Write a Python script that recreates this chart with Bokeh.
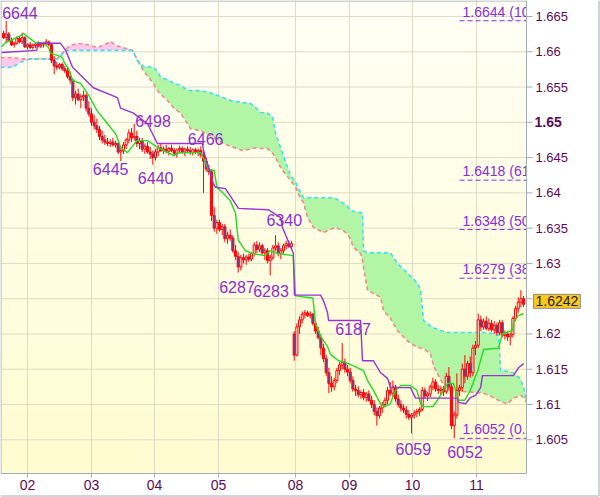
import numpy as np
from bokeh.plotting import figure
from bokeh.models import Range1d, BoxAnnotation, ColumnDataSource
from bokeh.core.properties import value
from bokeh.embed import file_html
from bokeh.resources import INLINE

# ---------------- data (prices written as the last four digits, 6623 = 1.6623) ----------------
day_labels = ["02", "03", "04", "05", "08", "09", "10", "11"]
day_pos = [9.0, 33.0, 56.6, 80.6, 109.5, 129.7, 153.4, 177.4]

y_ticks = [1.605, 1.61, 1.615, 1.62, 1.625, 1.63, 1.635, 1.64, 1.645, 1.65, 1.655, 1.66, 1.665]
y_tick_labels = ["1.605", "1.61", "1.615", "1.62", "1.625", "1.63", "1.635", "1.64", "1.645",
                 "1.65", "1.655", "1.66", "1.665"]
bold_tick = 1.65

bar_open = [6626, 6620, 6625, 6616, 6610, 6612, 6619, 6614, 6620, 6607, 6610, 6606, 6609, 6611, 6608, 6610, 6612, 6614, 6610, 6588,
            6580, 6578, 6582, 6576, 6573, 6565, 6560, 6535, 6540, 6532, 6536, 6538, 6520, 6512, 6500, 6495, 6490, 6480, 6475, 6472,
            6470, 6472, 6468, 6470, 6458, 6460, 6468, 6475, 6485, 6478, 6480, 6470, 6474, 6462, 6466, 6458, 6455, 6450, 6458, 6464,
            6460, 6462, 6459, 6463, 6460, 6456, 6461, 6463, 6458, 6462, 6460, 6457, 6461, 6458, 6460, 6454, 6445, 6434, 6430, 6368,
            6350, 6358, 6348, 6352, 6335, 6340, 6336, 6318, 6310, 6295, 6308, 6305, 6309, 6306, 6314, 6326, 6320, 6325, 6315, 6318,
            6304, 6308, 6322, 6325, 6314, 6318, 6325, 6328, 6324, 6200, 6170, 6210, 6220, 6228, 6230, 6226, 6228, 6215, 6204, 6195,
            6180, 6165, 6145, 6130, 6125, 6134, 6148, 6156, 6160, 6150, 6146, 6134, 6122, 6120, 6114, 6117, 6110, 6115, 6106, 6100,
            6090, 6084, 6095, 6100, 6106, 6120, 6116, 6125, 6108, 6100, 6095, 6092, 6086, 6082, 6085, 6088, 6090, 6093, 6120, 6112,
            6115, 6125, 6132, 6122, 6120, 6122, 6118, 6140, 6125, 6070, 6085, 6120, 6124, 6150, 6140, 6158, 6145, 6180, 6184, 6220,
            6210, 6218, 6208, 6215, 6206, 6212, 6202, 6216, 6198, 6200, 6196, 6199, 6222, 6236, 6245, 6250]
bar_high = [6630, 6644, 6628, 6620, 6614, 6622, 6622, 6627, 6622, 6612, 6614, 6612, 6614, 6615, 6613, 6614, 6618, 6616, 6612, 6594,
            6586, 6584, 6585, 6580, 6577, 6572, 6562, 6545, 6548, 6540, 6545, 6542, 6530, 6520, 6510, 6505, 6495, 6488, 6482, 6478,
            6476, 6478, 6474, 6472, 6465, 6472, 6478, 6490, 6492, 6498, 6488, 6478, 6478, 6470, 6472, 6465, 6460, 6462, 6468, 6470,
            6466, 6468, 6465, 6468, 6464, 6463, 6467, 6466, 6464, 6466, 6465, 6463, 6464, 6463, 6466, 6458, 6450, 6440, 6434, 6380,
            6362, 6362, 6356, 6356, 6345, 6348, 6340, 6326, 6316, 6312, 6314, 6312, 6314, 6316, 6330, 6332, 6330, 6328, 6322, 6322,
            6312, 6326, 6340, 6330, 6322, 6328, 6332, 6333, 6332, 6204, 6215, 6225, 6232, 6234, 6233, 6232, 6230, 6220, 6210, 6200,
            6186, 6170, 6152, 6140, 6138, 6152, 6160, 6187, 6165, 6156, 6152, 6140, 6128, 6126, 6120, 6122, 6118, 6120, 6112, 6106,
            6096, 6098, 6104, 6110, 6125, 6132, 6134, 6128, 6114, 6106, 6100, 6098, 6092, 6088, 6092, 6094, 6096, 6125, 6124, 6118,
            6128, 6138, 6136, 6128, 6126, 6126, 6145, 6153, 6130, 6090, 6144, 6128, 6158, 6170, 6162, 6168, 6185, 6190, 6229, 6226,
            6222, 6225, 6222, 6220, 6218, 6216, 6220, 6220, 6205, 6204, 6202, 6225, 6240, 6252, 6262, 6254]
bar_low = [6618, 6612, 6614, 6608, 6606, 6610, 6612, 6611, 6605, 6603, 6604, 6603, 6605, 6606, 6605, 6606, 6609, 6608, 6584, 6568,
           6574, 6575, 6573, 6570, 6562, 6555, 6530, 6525, 6530, 6520, 6530, 6515, 6508, 6495, 6490, 6485, 6475, 6470, 6468, 6466,
           6465, 6466, 6464, 6455, 6445, 6455, 6462, 6470, 6472, 6474, 6465, 6462, 6458, 6455, 6456, 6448, 6440, 6446, 6452, 6458,
           6455, 6456, 6453, 6458, 6452, 6450, 6456, 6455, 6452, 6456, 6454, 6453, 6455, 6452, 6450, 6400, 6430, 6425, 6360, 6345,
           6342, 6345, 6340, 6330, 6328, 6332, 6315, 6305, 6287, 6290, 6300, 6298, 6302, 6303, 6310, 6315, 6316, 6312, 6305, 6300,
           6283, 6305, 6318, 6310, 6306, 6314, 6320, 6322, 6320, 6162, 6168, 6200, 6215, 6222, 6224, 6222, 6212, 6200, 6192, 6170,
           6160, 6140, 6116, 6118, 6120, 6130, 6142, 6150, 6145, 6140, 6130, 6118, 6112, 6110, 6108, 6106, 6104, 6104, 6095, 6085,
           6070, 6080, 6088, 6096, 6100, 6112, 6110, 6104, 6096, 6090, 6088, 6080, 6078, 6059, 6080, 6082, 6084, 6090, 6108, 6105,
           6110, 6120, 6118, 6115, 6114, 6112, 6115, 6120, 6065, 6052, 6080, 6112, 6118, 6130, 6135, 6138, 6140, 6170, 6180, 6204,
           6206, 6205, 6204, 6203, 6200, 6198, 6198, 6195, 6192, 6190, 6184, 6195, 6218, 6230, 6238, 6238]
bar_close = [6620, 6625, 6616, 6610, 6612, 6619, 6614, 6620, 6607, 6610, 6606, 6609, 6611, 6608, 6610, 6612, 6614, 6610, 6588, 6580,
             6578, 6582, 6576, 6573, 6565, 6560, 6535, 6540, 6532, 6536, 6538, 6520, 6512, 6500, 6495, 6490, 6480, 6475, 6472, 6470,
             6472, 6468, 6470, 6458, 6460, 6468, 6475, 6485, 6478, 6480, 6470, 6474, 6462, 6466, 6458, 6455, 6450, 6458, 6464, 6460,
             6462, 6459, 6463, 6460, 6456, 6461, 6463, 6458, 6462, 6460, 6457, 6461, 6458, 6460, 6454, 6445, 6434, 6430, 6368, 6350,
             6358, 6348, 6352, 6335, 6340, 6336, 6318, 6310, 6295, 6308, 6305, 6309, 6306, 6314, 6326, 6320, 6325, 6315, 6318, 6304,
             6308, 6322, 6325, 6314, 6318, 6325, 6328, 6324, 6328, 6170, 6210, 6220, 6228, 6230, 6226, 6228, 6215, 6204, 6195, 6180,
             6165, 6145, 6130, 6125, 6134, 6148, 6156, 6160, 6150, 6146, 6134, 6122, 6120, 6114, 6117, 6110, 6115, 6106, 6100, 6090,
             6084, 6095, 6100, 6106, 6120, 6116, 6125, 6108, 6100, 6095, 6092, 6086, 6082, 6085, 6088, 6090, 6093, 6120, 6112, 6115,
             6125, 6132, 6122, 6120, 6122, 6118, 6140, 6125, 6070, 6085, 6120, 6124, 6150, 6140, 6158, 6145, 6180, 6184, 6220, 6210,
             6218, 6208, 6215, 6206, 6212, 6202, 6216, 6198, 6200, 6196, 6199, 6222, 6236, 6245, 6250, 6242]

# Tenkan-sen (green)
tenkan_bar = [-0.75, 0.8, 2.6, 6.4, 7.5, 9.4, 12.0, 15.0, 16.9, 17.6, 20.2, 22.0, 23.0, 24.4, 26.0, 29.0, 32.0, 35.0,
              39.0, 42.0, 44.0, 46.5, 50.0, 54.0, 58.0, 61.5, 64.0, 66.0, 74.0, 77.0, 79.0, 80.0, 82.5, 85.0, 87.0, 88.0,
              90.7, 93.4, 98.0, 100.0, 102.7, 108.6, 109.5, 116.0, 117.0, 119.0, 121.5, 122.6, 125.6, 128.0, 131.0, 135.0,
              136.5, 138.7, 141.4, 143.0, 145.0, 147.0, 149.0, 152.6, 155.0, 156.4, 157.5, 161.0, 162.7, 166.5, 168.7,
              170.6, 173.0, 175.0, 178.0, 180.0, 185.6, 187.0, 190.9, 191.2, 193.0, 195.0]
tenkan_val = [6607, 6613, 6616, 6623, 6626, 6620, 6613, 6612, 6606, 6598, 6595, 6592, 6583, 6576, 6559, 6555, 6538, 6517,
              6498, 6484, 6464, 6457, 6474, 6474, 6464, 6457, 6453, 6457, 6457, 6432, 6432, 6408, 6399, 6389, 6371, 6333,
              6318, 6314, 6311, 6318, 6314, 6311, 6254, 6251, 6215, 6196, 6182, 6171, 6162, 6160, 6155, 6148,
              6134, 6120, 6101, 6097, 6101, 6120, 6127, 6127, 6120, 6101, 6097, 6097, 6106, 6130, 6130,
              6106, 6106, 6120, 6150, 6178, 6180, 6200, 6205, 6216, 6226, 6229]

# Kijun-sen (purple)
kijun_bar = [-0.75, 12.5, 12.8, 21.4, 23.3, 25.9, 33.7, 42.7, 43.9, 48.7, 54.0, 57.7, 74.6, 75.0, 78.7, 79.5, 83.2,
             88.1, 99.4, 103.9, 104.6, 108.7, 109.1, 118.9, 120.0, 121.5, 121.9, 133.9, 134.6, 138.7, 141.4, 144.0,
             145.1, 152.6, 154.5, 170.2, 170.6, 173.2, 175.1, 177.0, 178.9, 179.6, 191.2, 193.1, 195.0]
kijun_val = [6599, 6602, 6612, 6612, 6602, 6578, 6549, 6535, 6520, 6513, 6498, 6470, 6470, 6460, 6413, 6408, 6406,
             6378, 6376, 6365, 6351, 6314, 6255, 6255, 6247, 6230, 6219, 6219, 6162, 6162, 6145, 6137,
             6124, 6124, 6109, 6109, 6103, 6101, 6110, 6113, 6124, 6141, 6141, 6152, 6158]

# Cloud: Senkou span A (cyan) and B (salmon)
cloud_bar = [-1.1, 3.4, 6.4, 10.1, 20.2, 22.5, 24.0, 25.1, 27.7, 31.5, 35.2, 39.0, 40.1, 42.0, 45.7, 48.4, 50.2, 52.5,
             56.2, 57.7, 58.9, 61.5, 63.7, 66.4, 69.0, 70.1, 73.9, 77.6, 82.5, 85.1, 89.6, 92.6, 94.5, 96.4, 99.0, 100.9,
             102.0, 103.9, 105.0, 107.6, 109.5, 110.6, 112.5, 114.0, 116.2, 120.0, 123.7, 124.5, 127.5, 129.0, 130.1,
             131.2, 133.9, 134.6, 135.0, 136.5, 141.4, 142.5, 145.1, 147.7, 151.5, 152.6, 155.2, 156.4, 157.5, 160.1,
             161.2, 163.9, 166.5, 177.0, 180.0, 182.6, 185.6, 186.4, 189.0, 191.2, 193.9, 195.0, 196.1]
span_a = [6578, 6578, 6585, 6590, 6590, 6598, 6602, 6602, 6602, 6602, 6602, 6602, 6602, 6602, 6602, 6602, 6588, 6579,
          6578, 6572, 6564, 6560, 6556, 6552, 6546, 6545, 6545, 6542, 6535, 6531, 6528, 6527, 6521, 6514, 6513, 6508,
          6484, 6464, 6452, 6425, 6415, 6406, 6393, 6393, 6393, 6393, 6393, 6392, 6385, 6381, 6375,
          6374, 6372, 6372, 6318, 6315, 6315, 6315, 6315, 6300, 6286, 6282, 6272, 6262, 6219, 6211,
          6209, 6205, 6202, 6202, 6202, 6201, 6198, 6148, 6147, 6145, 6136, 6124, 6106]
span_b = [6592, 6592, 6590, 6590, 6590, 6600, 6606, 6609, 6612, 6610, 6606, 6612, 6615, 6609, 6605, 6602, 6588, 6573,
          6555, 6545, 6540, 6531, 6521, 6513, 6498, 6491, 6488, 6481, 6470, 6466, 6460, 6462, 6464, 6463, 6463, 6456,
          6450, 6436, 6430, 6418, 6408, 6398, 6386, 6365, 6351, 6344, 6350, 6351, 6346, 6342, 6334,
          6323, 6314, 6305, 6294, 6262, 6252, 6233, 6222, 6205, 6190, 6187, 6181, 6180, 6179, 6172,
          6155, 6135, 6120, 6117, 6116, 6112, 6106, 6104, 6101, 6109, 6113, 6110, 6103]

# High / low labels
hilo_text = ["6644", "6498", "6466", "6445", "6440", "6340", "6287", "6283", "6187", "6059", "6052"]
hilo_bar = [1, 49, 74, 44, 56, 102, 88, 100, 127, 153, 169]
hilo_val = [6644, 6498, 6466, 6445, 6440, 6340, 6287, 6283, 6187, 6059, 6052]

# Fibonacci levels
fib_val = [6644, 6418, 6348, 6279, 6052]
fib_text = ["1.6644 (100.0)", "1.6418 (61.8)", "1.6348 (50.0)", "1.6279 (38.2)", "1.6052 (0.0)"]
fib_start_bar = 171

last_price_text = "1.6242"
last_price = 6242


def price(pips):
    return 1.0 + np.asarray(pips, dtype=float) / 10000.0


# ---------------- geometry ----------------
W, H = 600, 497
chart_left, chart_right = -0.75, 196.1      # bar-index span of the chart area
chart_bottom, chart_top = 1.60022, 1.66727  # price span of the chart area
area_px_w, area_px_h = 525.0, 473.0         # chart area size in pixels (right axis / bottom axis outside)
ppb = area_px_w / (chart_right - chart_left)
ppu = area_px_h / (chart_top - chart_bottom)
x_min = chart_left - 1.0 / ppb
x_max = x_min + W / ppb
y_max = chart_top
y_min = chart_top - H / ppu

p = figure(width=W, height=H, output_backend="svg", toolbar_location=None,
           x_range=Range1d(x_min, x_max), y_range=Range1d(y_min, y_max),
           x_axis_location=None, y_axis_location=None, min_border=0)
p.background_fill_color = "#ffffff"
p.border_fill_color = "#ffffff"
p.outline_line_color = None
p.grid.visible = False

grey = "#a3abb3"
label_col = "#5a0a5a"

# background gradient of the chart area
nb = 30
edges = np.linspace(chart_bottom, chart_top, nb + 1)
c_top = np.array([255, 255, 246])
c_bot = np.array([255, 252, 208])
for k in range(nb):
    t = (k + 0.5) / nb
    col = c_bot + (c_top - c_bot) * t
    hexc = "#%02x%02x%02x" % tuple(int(round(v)) for v in col)
    p.add_layout(BoxAnnotation(left=chart_left, right=chart_right, bottom=edges[k],
                               top=min(edges[k + 1] + (edges[1] - edges[0]) * 0.1, chart_top),
                               fill_color=hexc, fill_alpha=1.0, line_alpha=0, level="image"))

# grid
p.segment(x0=day_pos, y0=[chart_bottom] * len(day_pos), x1=day_pos, y1=[chart_top] * len(day_pos),
          line_color="#dcdcc2", line_width=1, level="underlay")
p.segment(x0=[chart_left] * len(y_ticks), y0=y_ticks, x1=[chart_right] * len(y_ticks), y1=y_ticks,
          line_color="#dcdcc2", line_width=1, level="underlay")

# cloud
cx = np.asarray(cloud_bar)
a = price(span_a)
b = price(span_b)
top = np.maximum(a, b)
p.varea(x=cx, y1=b, y2=top, fill_color="#b2f5a4", fill_alpha=1.0)
p.varea(x=cx, y1=a, y2=top, fill_color="#ffc8ec", fill_alpha=1.0)
p.line(cx, b, line_color="#f08a8a", line_width=1.6, line_dash="4 3")
p.line(cx, a, line_color="#38e2f2", line_width=1.6, line_dash="4 3")

# candles
xb = np.arange(len(bar_close))
o = price(bar_open)
h = price(bar_high)
l = price(bar_low)
c = price(bar_close)
fills = ["#fffde8" if cc >= oo else "#5a46b0" for oo, cc in zip(o, c)]
src = ColumnDataSource(dict(x=xb, h=h, l=l, top=np.maximum(o, c), bot=np.minimum(o, c), fill=fills))
p.segment(x0="x", y0="l", x1="x", y1="h", source=src, line_color="#ff0000", line_width=1)
p.vbar(x="x", width=0.78, top="top", bottom="bot", source=src, fill_color="fill",
       line_color="#ff0000", line_width=1)

# tenkan / kijun
p.line(tenkan_bar, price(tenkan_val), line_color="#22dd22", line_width=1.4)
p.line(kijun_bar, price(kijun_val), line_color="#9a32d6", line_width=1.4)

# fib levels
fv = price(fib_val)
fib_col = "#8a2be2"
p.segment(x0=[fib_start_bar] * len(fv), y0=fv, x1=[chart_right] * len(fv), y1=fv,
          line_color=fib_col, line_width=1, line_dash="5 3")
p.text(x=[fib_start_bar] * len(fv), y=fv, text=fib_text, x_offset=3, y_offset=-9,
       text_font=value("Liberation Sans"), text_font_size=value("14px"), text_color=fib_col,
       text_baseline="alphabetic", text_align="left")

# high / low labels
hilo_dx = [-4, 1, -13, -28, -15, -9, -19, -17, -7, -16, -7]
hilo_dy = [-8, -3, -7, 8, 13, -15, 14, 16, -14, 16, 14]
hsrc = ColumnDataSource(dict(x=hilo_bar, y=price(hilo_val), text=hilo_text, dx=hilo_dx, dy=hilo_dy))
p.text(x="x", y="y", text="text", x_offset="dx", y_offset="dy", source=hsrc,
       text_font=value("Liberation Sans"), text_font_size=value("16px"), text_color="#8b2fd0",
       text_baseline="alphabetic", text_align="left")

# ---------------- axes (right price scale, bottom day scale) ----------------
# white margins outside the chart area
p.quad(left=[chart_right], right=[x_max], bottom=[y_min], top=[y_max], fill_color="#ffffff", line_color=None)
p.quad(left=[x_min], right=[x_max], bottom=[y_min], top=[chart_bottom], fill_color="#ffffff", line_color=None)

# frame lines
p.segment(x0=[chart_right, x_min, chart_left - 0.5 / ppb, x_min],
          y0=[chart_bottom, chart_bottom, y_max, y_max - 0.5 / ppu],
          x1=[chart_right, chart_right, chart_left - 0.5 / ppb, chart_right],
          y1=[y_max, chart_bottom, chart_bottom, y_max - 0.5 / ppu],
          line_color=grey, line_width=1)
# outer border (right and bottom)
p.segment(x0=[x_min + 598.5 / ppb, x_min], y0=[y_max, y_max - 495.5 / ppu],
          x1=[x_min + 598.5 / ppb, x_min + 598.5 / ppb], y1=[y_max - 495.5 / ppu, y_max - 495.5 / ppu],
          line_color=grey, line_width=1)

# ticks
p.segment(x0=[chart_right] * len(y_ticks), y0=y_ticks, x1=[chart_right + 6.0 / ppb] * len(y_ticks), y1=y_ticks,
          line_color=grey, line_width=1)
p.segment(x0=day_pos, y0=[chart_bottom] * len(day_pos), x1=day_pos, y1=[chart_bottom - 4.0 / ppu] * len(day_pos),
          line_color=grey, line_width=1)

# tick labels
norm = [(t, lab) for t, lab in zip(y_ticks, y_tick_labels) if t != bold_tick]
p.text(x=[chart_right] * len(norm), y=[t for t, _ in norm], text=[lab for _, lab in norm], x_offset=9,
       text_font=value("Liberation Sans"), text_font_size=value("13px"), text_color=label_col,
       text_baseline="middle", text_align="left")
p.text(x=[chart_right], y=[bold_tick], text=[y_tick_labels[y_ticks.index(bold_tick)]], x_offset=8,
       text_font=value("Liberation Sans"), text_font_size=value("14px"), text_font_style="bold",
       text_color=label_col, text_baseline="middle", text_align="left")
p.text(x=day_pos, y=[chart_bottom] * len(day_pos), text=day_labels, y_offset=6,
       text_font=value("Liberation Sans"), text_font_size=value("14px"), text_color=label_col,
       text_baseline="top", text_align="center")

# last price box
p.text(x=[chart_right], y=[price(last_price)], text=[last_price_text], x_offset=7, y_offset=-3,
       text_font=value("Liberation Sans"), text_font_size=value("14px"), text_color="#202020",
       text_baseline="middle", text_align="left",
       background_fill_color="#fcc820", border_line_color="#8c8c8c", padding=2)

open("out.html", "w").write(file_html(p, INLINE))
